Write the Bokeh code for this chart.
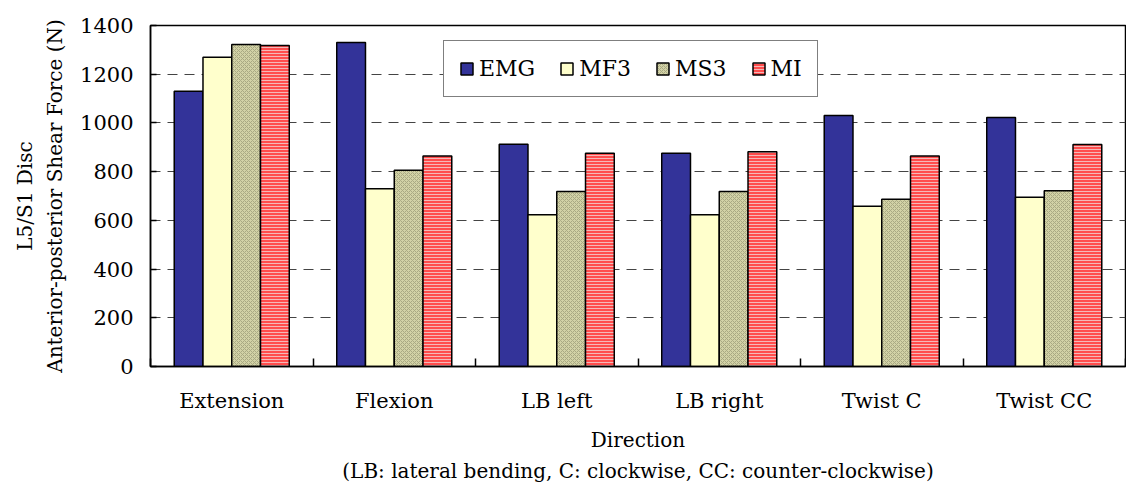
import numpy as np
from bokeh.plotting import figure
from bokeh.models import (ColumnDataSource, Range1d, FixedTicker, Legend, LegendItem, Title)
from bokeh.embed import file_html
from bokeh.resources import INLINE

categories = ["Extension", "Flexion", "LB left", "LB right", "Twist C", "Twist CC"]
series = ["EMG", "MF3", "MS3", "MI"]
emg = [1130, 1330, 912, 876, 1030, 1022]
mf3 = [1270, 730, 623, 623, 658, 695]
ms3 = [1322, 806, 718, 718, 687, 722]
mi = [1318, 864, 876, 882, 864, 911]
y_ticks = [0, 200, 400, 600, 800, 1000, 1200, 1400]
x_title = "Direction\n(LB: lateral bending, C: clockwise, CC: counter-clockwise)"

FONT = "DejaVu Serif"

p = figure(width=1126, height=485, output_backend="svg", toolbar_location=None,
           x_range=Range1d(0, len(categories)), y_range=Range1d(0, 1400),
           min_border_left=150, min_border_top=25, min_border_bottom=112, min_border_right=1)
p.outline_line_color = "black"
p.outline_line_width = 1.5
p.background_fill_color = "white"
p.border_fill_color = "white"

centers = np.arange(len(categories)) + 0.5
bar_w = 0.177
fills = ["#333399", "#FFFFCC", "#D2D2A6", "#FF4D4D"]
hatches = [None, None, "diagonal_cross", "horizontal_line"]
hcolors = [None, None, "#A9A983", "#F4B8B8"]
hscales = [None, None, 4, 3]
values = [emg, mf3, ms3, mi]

items = []
for i, (name, vals) in enumerate(zip(series, values)):
    src = ColumnDataSource(dict(x=centers + (i - 1.5) * bar_w, top=vals))
    kw = dict(fill_color=fills[i], line_color="black", line_width=1.5)
    if hatches[i]:
        kw.update(hatch_pattern=hatches[i], hatch_color=hcolors[i],
                  hatch_scale=hscales[i], hatch_weight=1)
    r = p.vbar(x="x", top="top", bottom=0, width=bar_w, source=src, **kw)
    items.append(LegendItem(label=name, renderers=[r]))

# axes
xa = p.xaxis[0]
xa.ticker = FixedTicker(ticks=list(centers), minor_ticks=list(range(len(categories) + 1)))
xa.major_label_overrides = {float(c): lab for c, lab in zip(centers, categories)}
xa.major_tick_in = 0
xa.major_tick_out = 0
xa.minor_tick_in = 8
xa.minor_tick_out = 0
xa.minor_tick_line_color = "black"
xa.minor_tick_line_width = 1.5
xa.axis_line_color = "black"
xa.axis_line_width = 1.5
xa.major_label_text_font = FONT
xa.major_label_text_font_size = "21px"
xa.major_label_text_color = "black"
xa.major_label_standoff = 22
xa.axis_label = x_title
xa.axis_label_text_font = FONT
xa.axis_label_text_font_size = "20px"
xa.axis_label_text_font_style = "normal"
xa.axis_label_text_color = "black"
xa.axis_label_text_line_height = 1.3
xa.axis_label_standoff = 12

ya = p.yaxis[0]
ya.ticker = FixedTicker(ticks=y_ticks)
ya.major_tick_in = 6
ya.major_tick_out = 0
ya.major_tick_line_width = 1.5
ya.minor_tick_line_color = None
ya.axis_line_color = "black"
ya.axis_line_width = 1.5
ya.major_label_text_font = FONT
ya.major_label_text_font_size = "21px"
ya.major_label_text_color = "black"
ya.major_label_standoff = 17
ya.axis_label = "Anterior-posterior Shear Force (N)"
ya.axis_label_text_font = FONT
ya.axis_label_text_font_size = "20px"
ya.axis_label_text_font_style = "normal"
ya.axis_label_text_color = "black"
ya.axis_label_standoff = 10

p.add_layout(Title(text="L5/S1 Disc", align="center", text_font=FONT, text_font_size="20px",
                   text_font_style="normal", text_color="black", standoff=8, offset=0), "left")

p.xgrid.grid_line_color = None
p.ygrid.ticker = FixedTicker(ticks=y_ticks)
p.ygrid.grid_line_color = "#444444"
p.ygrid.grid_line_dash = "10 7"
p.ygrid.grid_line_width = 1

legend = Legend(items=items, orientation="horizontal", location=(293, 269),
                label_text_font=FONT, label_text_font_size="22px", label_text_color="black",
                border_line_color="black", border_line_width=1.5, background_fill_color="white",
                background_fill_alpha=1, padding=15, margin=0, spacing=24,
                glyph_width=15, glyph_height=15, label_standoff=5, label_height=22)
p.add_layout(legend, "center")

open("out.html", "w").write(file_html(p, INLINE))
